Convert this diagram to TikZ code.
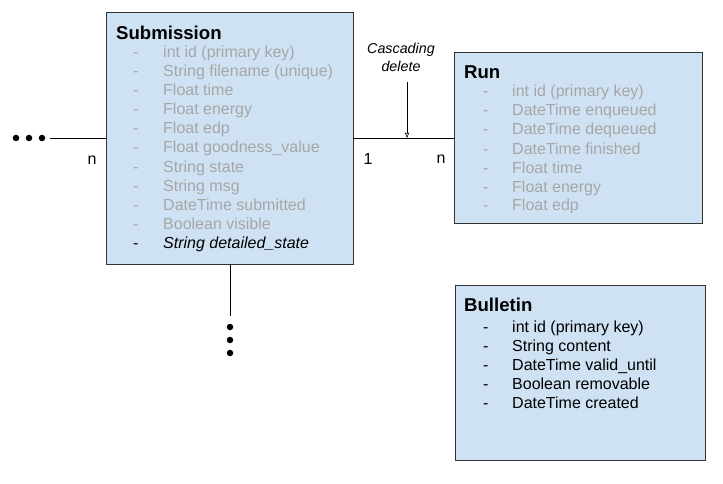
\documentclass[tikz,border=0pt]{standalone}
\usepackage{fontspec}
\setmainfont{Liberation Sans}
\usetikzlibrary{arrows.meta}
\definecolor{boxfill}{HTML}{CFE2F3}
\definecolor{faded}{HTML}{A6A6A6}
\tikzset{
  entity/.style={draw=black!80, line width=0.8pt, fill=boxfill, anchor=north west, inner sep=0pt},
  ttl/.style={anchor=west, inner sep=0pt, text height=13pt, text depth=4pt, font=\fontsize{18.6}{18.6}\selectfont\bfseries},
  itm/.style={anchor=west, inner sep=0pt, text height=11.5pt, text depth=3.5pt, font=\fontsize{16}{16}\selectfont},
  lbl/.style={inner sep=0pt, font=\fontsize{16}{16}\selectfont},
  dot/.style={circle, fill=black, inner sep=0pt, minimum size=6.5pt},
  conn/.style={line width=0.8pt, draw=black}
}
\begin{document}
\begin{tikzpicture}[x=1pt,y=-1pt]
\useasboundingbox (0,0) rectangle (723,484);
% boxes
\node[entity, minimum width=247pt, minimum height=252pt] (sub) at (106,12) {};
\node[entity, minimum width=248pt, minimum height=171pt] (run) at (454,52) {};
\node[entity, minimum width=250pt, minimum height=175pt] (bul) at (455,285) {};
% Submission
\node[ttl] (subt) at (116,35) {Submission};
\foreach \t [count=\i] in {int id (primary key),String filename (unique),Float time,Float energy,Float edp,Float goodness\_value,String state,String msg,DateTime submitted,Boolean visible}{
  \node[itm, text=faded] (subd\i) at (133,35+19*\i) {-};
  \node[itm, text=faded] (subi\i) at (163,35+19*\i) {\t};
}
\node[itm] (subd11) at (133,244) {-};
\node[itm] (subi11) at (163,244) {\itshape String detailed\_state};
% Run
\node[ttl] (runt) at (464,74) {Run};
\foreach \t [count=\i] in {int id (primary key),DateTime enqueued,DateTime dequeued,DateTime finished,Float time,Float energy,Float edp}{
  \node[itm, text=faded] (rund\i) at (483,74+19*\i) {-};
  \node[itm, text=faded] (runi\i) at (512,74+19*\i) {\t};
}
% Bulletin
\node[ttl] (bult) at (464,307) {Bulletin};
\foreach \t [count=\i] in {int id (primary key),String content,DateTime valid\_until,Boolean removable,DateTime created}{
  \node[itm] (buld\i) at (483,309+19*\i) {-};
  \node[itm] (buli\i) at (512,309+19*\i) {\t};
}
% left connector
\node[dot] (l1) at (16,138) {};
\node[dot] (l2) at (29,138) {};
\node[dot] (l3) at (42,138) {};
\coordinate (lend) at (50,138);
\draw[conn] (lend) -- (sub.west |- lend);
\node[lbl] (ln) at (92,160) {n};
% right connector
\coordinate (rs) at (353,138);
\draw[conn] (rs) -- (run.west |- rs);
\node[lbl] (r1) at (368,159) {1};
\node[lbl] (rn) at (441,159) {n};
% cascading delete
\node[inner sep=0pt, align=center, font=\fontsize{14.3}{18}\selectfont\itshape] (cd) at (401,57) {Cascading\\delete};
\coordinate (ctop) at (407,82);
\coordinate (cbot) at (407,138);
\draw[line width=0.6pt, -{Triangle[open, length=5pt, width=4pt]}] (ctop) -- (cbot);
% down connector
\coordinate (ds) at (230,264);
\coordinate (de) at (230,316);
\draw[conn] (ds) -- (de);
\node[dot] (d1) at (230,327) {};
\node[dot] (d2) at (230,340) {};
\node[dot] (d3) at (230,353) {};
\end{tikzpicture}
\end{document}
